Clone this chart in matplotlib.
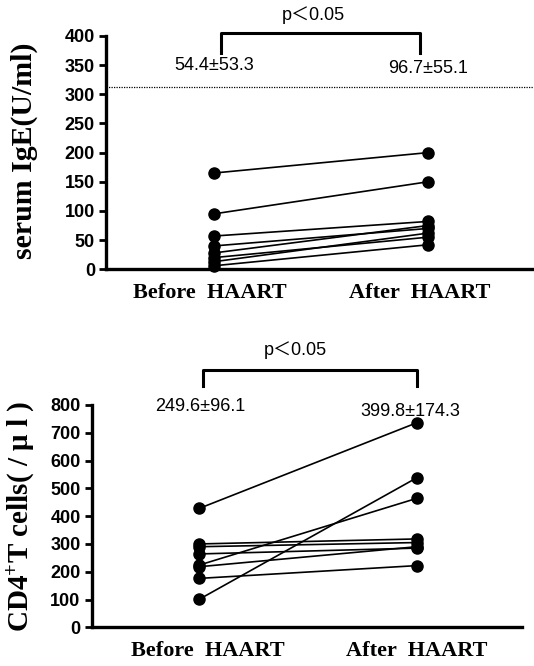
import matplotlib.pyplot as plt

plt.rcParams["font.family"] = ["Liberation Sans", "Noto Sans CJK JP"]
plt.rcParams["mathtext.default"] = "regular"

# serum IgE (U/ml), each patient before/after HAART
ige_before = [165, 95, 57, 40, 28, 20, 13, 6]
ige_after = [200, 150, 82, 70, 75, 55, 62, 42]
ige_normal = 312
ige_stats = ["54.4\u00b153.3", "96.7\u00b155.1"]

# CD4+ T cells (/ul)
cd4_before = [428, 101, 224, 300, 290, 264, 218, 176]
cd4_after = [736, 538, 464, 318, 305, 285, 290, 222]
cd4_stats = ["249.6\u00b196.1", "399.8\u00b1174.3"]

groups = ["Before  HAART", "After  HAART"]
ige_ticks = [0, 50, 100, 150, 200, 250, 300, 350, 400]
cd4_ticks = [0, 100, 200, 300, 400, 500, 600, 700, 800]

serif = dict(family="Liberation Serif", weight="bold")


def paired(ax, before, after):
    for b, a in zip(before, after):
        ax.plot([1, 2], [b, a], color="black", lw=1.2, marker="o",
                ms=8, mfc="black", mec="black", clip_on=False, zorder=3)


def style(ax, ticks, ymax):
    ax.set_ylim(0, ymax)
    ax.set_yticks(ticks)
    for s in ["top", "right"]:
        ax.spines[s].set_visible(False)
    ax.spines["left"].set_linewidth(2.4)
    ax.spines["bottom"].set_linewidth(2.4)
    ax.tick_params(axis="y", direction="out", length=5, width=2, pad=3,
                   labelsize=13)
    for lab in ax.get_yticklabels():
        lab.set_fontweight("bold")
    ax.tick_params(axis="x", length=0, pad=10)


def bracket(ax, x0, x1, ytop, ybot, ptext_x, ptext_y):
    ax.plot([x0, x0, x1, x1], [ybot, ytop, ytop, ybot], color="black",
            lw=2.2, clip_on=False)
    ax.text(ptext_x, ptext_y, "p\uff1c0.05", ha="center", va="center",
            fontsize=13, clip_on=False)


fig = plt.figure(figsize=(5.34, 6.66), dpi=100)

# top panel: serum IgE
ax1 = fig.add_axes([0.1985, 0.5957, 0.8015, 0.3503])
ax1.set_xlim(0.495, 2.495)
style(ax1, ige_ticks, 400)
paired(ax1, ige_before, ige_after)
ax1.axhline(ige_normal, color="black", lw=0.9, ls=(0, (1, 1)))
bracket(ax1, 1.033, 1.963, 405, 371, 1.463, 436)
ax1.text(1.0, 350, ige_stats[0], ha="center", va="center", fontsize=13)
ax1.text(2.0, 345, ige_stats[1], ha="center", va="center", fontsize=13)
ax1.set_xticks([0.98, 1.96])
ax1.set_xticklabels(groups, fontsize=16, **serif)
ax1.set_ylabel("serum IgE(U/ml)", fontsize=21.5, **serif)
ax1.yaxis.set_label_coords(-0.158, 0.51)

# bottom panel: CD4+ T cells
ax2 = fig.add_axes([0.1717, 0.0581, 0.8058, 0.3338])
ax2.set_xlim(0.505, 2.484)
style(ax2, cd4_ticks, 800)
paired(ax2, cd4_before, cd4_after)
bracket(ax2, 1.017, 2.0, 926, 868, 1.44, 998)
ax2.text(1.003, 795, cd4_stats[0], ha="center", va="center", fontsize=13)
ax2.text(1.97, 778, cd4_stats[1], ha="center", va="center", fontsize=13)
ax2.set_xticks([1.04, 2.0])
ax2.set_xticklabels(groups, fontsize=16, **serif)
ax2.set_ylabel("CD4$^{+}$T cells( / \u03bc l )", fontsize=21, **serif)
ax2.yaxis.set_label_coords(-0.127, 0.5)

fig.savefig("out.png", dpi=100)
